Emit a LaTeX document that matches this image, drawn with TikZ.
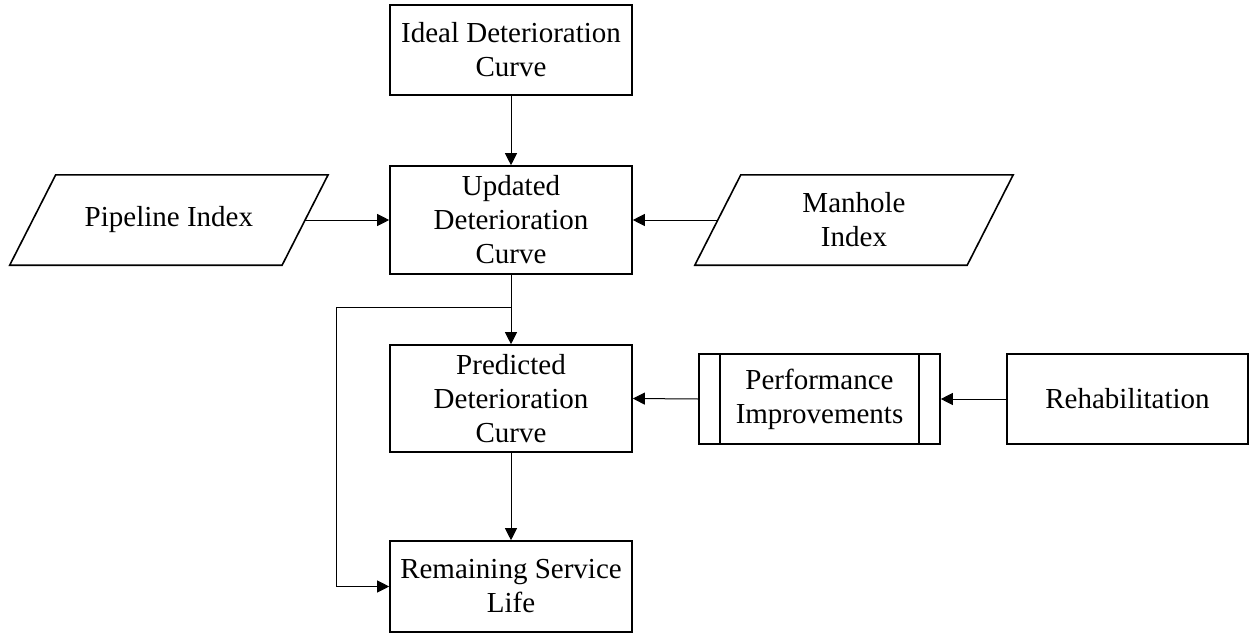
\documentclass[tikz,border=0pt]{standalone}
\usepackage{fontspec}
\setmainfont{Liberation Serif}
\usetikzlibrary{arrows.meta,calc}
\begin{document}
\begin{tikzpicture}[x=1pt,y=-1pt,
  every node/.style={font=\fontsize{29}{34}\selectfont, align=center, inner sep=0pt},
  box/.style={draw, line width=1.6pt, rectangle, minimum width=242pt},
  para/.style={rectangle, minimum width=272pt, minimum height=90pt},
  border/.style={line width=1.6pt, line join=miter},
  conn/.style={line width=1pt, -{Triangle[length=12pt,width=12pt]}}]
\useasboundingbox (0,0) rectangle (1249,634);
\node[box, minimum height=90pt] (ideal) at (511,50) {Ideal Deterioration\\Curve};
\node[box, minimum height=108pt] (updated) at (511,220) {Updated\\Deterioration\\Curve};
\node[box, minimum height=107pt] (predicted) at (511,398.5) {Predicted\\Deterioration\\Curve};
\node[box, minimum height=91pt] (remaining) at (511,586.5) {Remaining Service\\Life};
\node[para] (pipeline) at (168.9,220) {Pipeline Index};
\draw[border] ($(pipeline.south west)+(-23,0)$) -- ($(pipeline.north west)+(23,0)$) -- ($(pipeline.north east)+(23,0)$) -- ($(pipeline.south east)+(-23,0)$) -- cycle;
\node[para] (manhole) at (854,220) {Manhole\\Index};
\draw[border] ($(manhole.south west)+(-23,0)$) -- ($(manhole.north west)+(23,0)$) -- ($(manhole.north east)+(23,0)$) -- ($(manhole.south east)+(-23,0)$) -- cycle;
\node[box, minimum width=241pt, minimum height=90pt] (perf) at (819.5,399) {Performance\\Improvements};
\draw[line width=1.6pt] ([xshift=22pt]perf.north west) -- ([xshift=22pt]perf.south west);
\draw[line width=1.6pt] ([xshift=-22pt]perf.north east) -- ([xshift=-22pt]perf.south east);
\node[box, minimum width=241pt, minimum height=90pt] (rehab) at (1127.5,399) {Rehabilitation};
\draw[conn] (ideal.south) -- (updated.north);
\draw[conn] (pipeline.east) -- (updated.west);
\draw[conn] (manhole.west) -- (updated.east);
\draw[conn] (updated.south) -- (predicted.north);
\coordinate (br) at (511,307);
\coordinate (lft) at (336,307);
\draw[conn] (br) -- (lft) |- (remaining.west);
\draw[conn] (predicted.south) -- (remaining.north);
\draw[conn] (perf.west) -- (predicted.east);
\draw[conn] (rehab.west) -- (perf.east);
\end{tikzpicture}
\end{document}
